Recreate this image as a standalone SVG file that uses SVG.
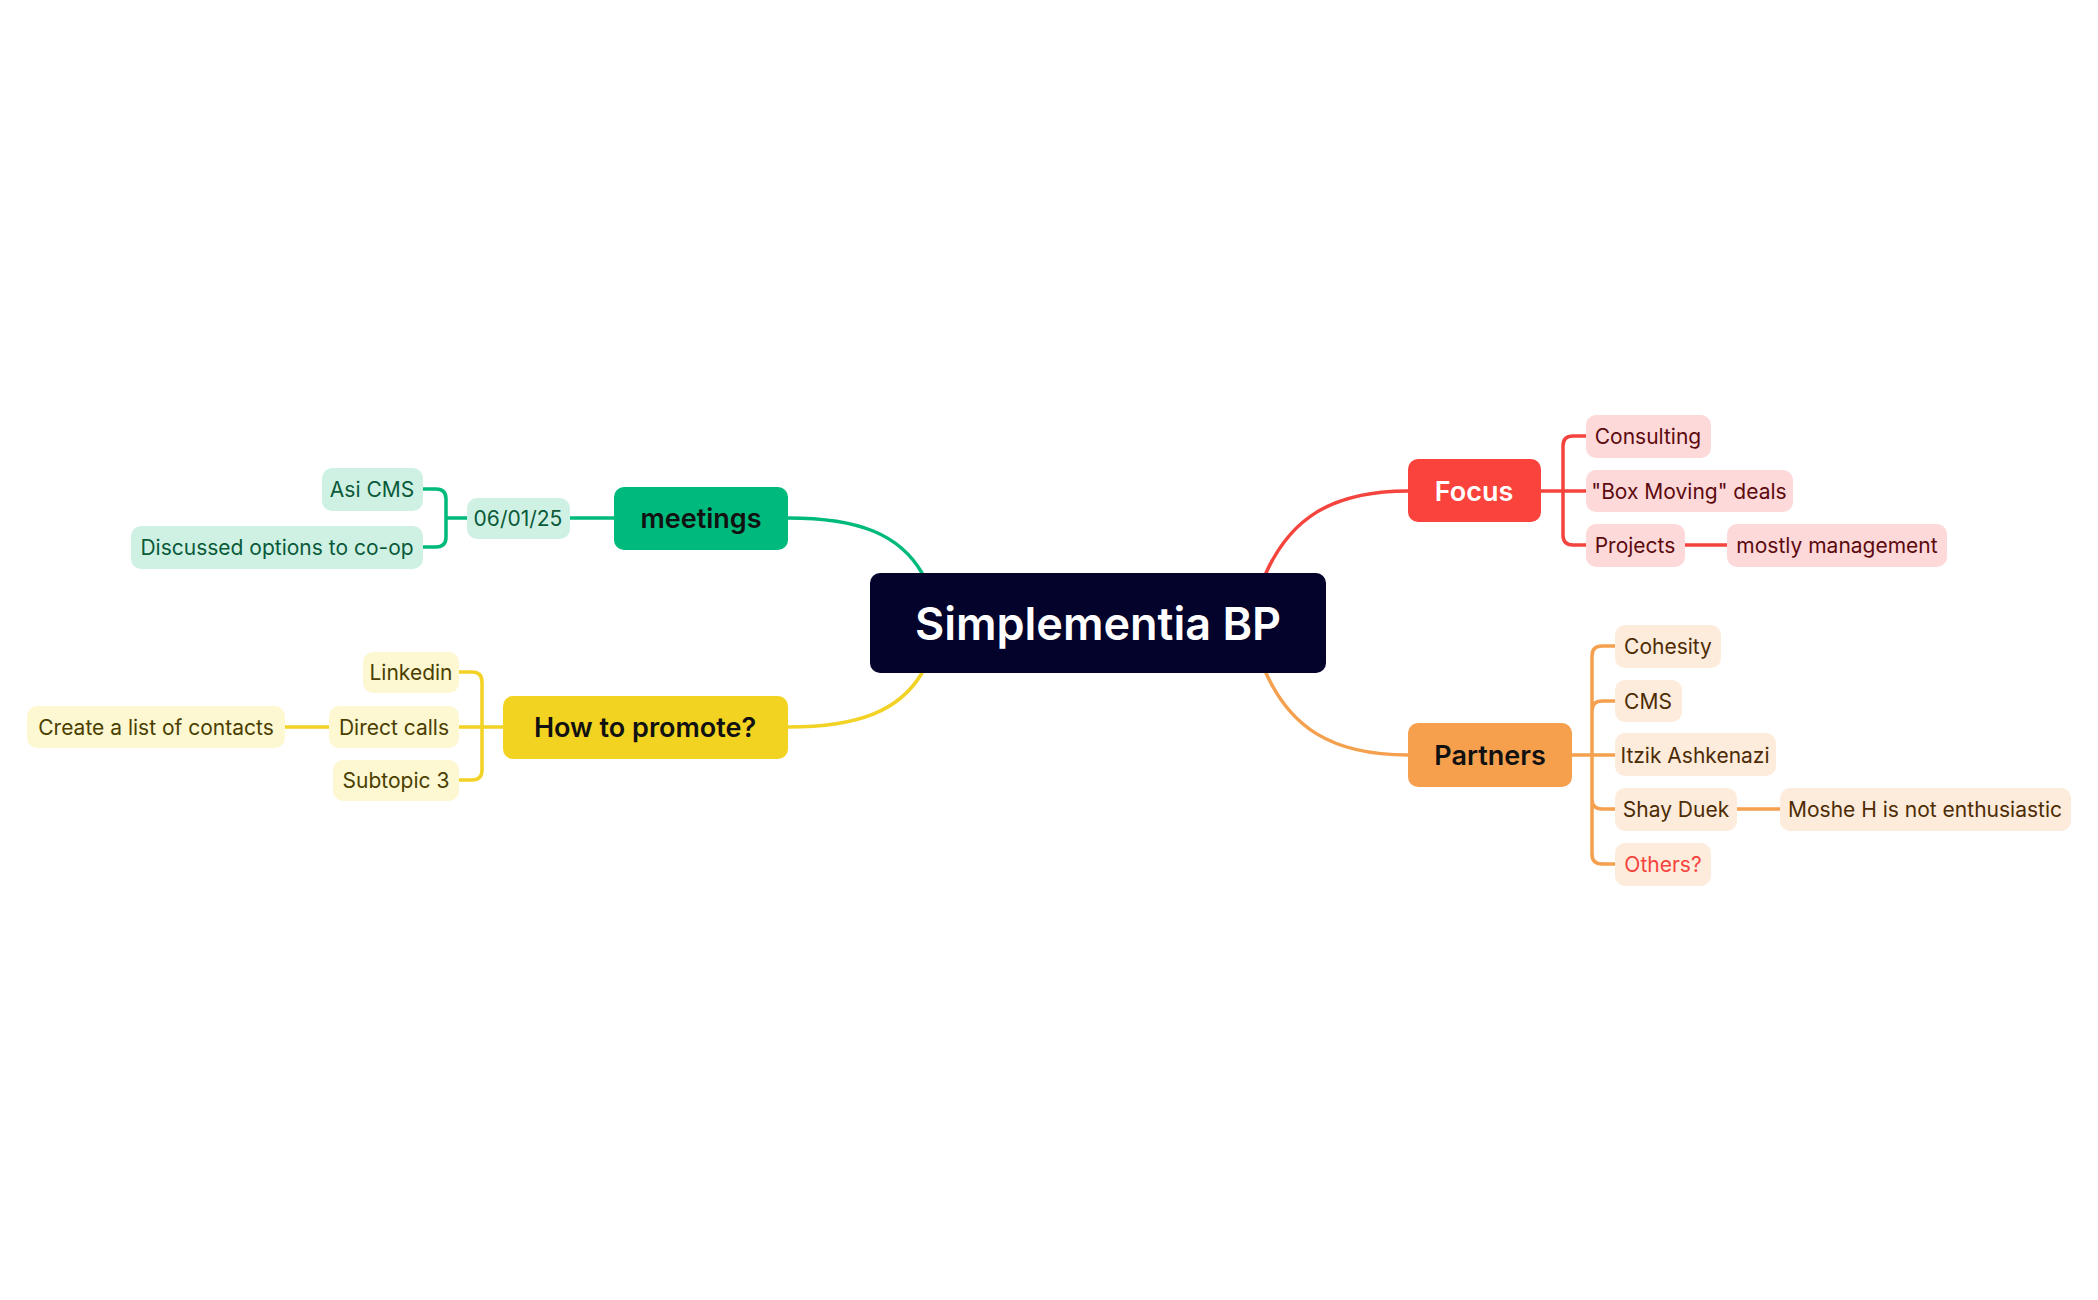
<svg xmlns="http://www.w3.org/2000/svg" width="2098" height="1300" viewBox="0 0 2098 1300">
<style>
text{font-family:Inter,"Open Sans","Liberation Sans",sans-serif;dominant-baseline:central;text-anchor:middle}
.c{fill:none;stroke-width:3.5;stroke-linecap:round}
.r{stroke:#f5433d}.o{stroke:#f5a04e}.g{stroke:#00b97c}.y{stroke:#f2d224}
.sub{font-size:21px}
.rs{fill:#fdd9d9}.rt{fill:#5c0a0f}
.os{fill:#fdebdb}.ot{fill:#4d2c05}
.gs{fill:#cff1e4}.gt{fill:#0a5a3a}
.ys{fill:#fdf7d2}.yt{fill:#4a3f00}
.main{font-size:27px;font-weight:600}
</style>
<rect width="2098" height="1300" fill="#fff"/>
<g id="connectors">
<path class="c r" d="M1266 573 C1290 520 1330 491 1408 491"/>
<path class="c o" d="M1266 673 C1290 726 1330 755 1408 755"/>
<path class="c g" d="M922 573 C900 535 860 518 788 518"/>
<path class="c y" d="M922 673 C900 710 860 727 788 727"/>
<path class="c r" d="M1541 491 H1586 M1586 436 H1573 Q1563 436 1563 446 V535 Q1563 545 1573 545 H1586 M1685 545 H1727"/>
<path class="c o" d="M1572 755 H1615 M1615 646 H1602 Q1592 646 1592 656 V854 Q1592 864 1602 864 H1615 M1592 711 Q1592 701 1602 701 H1615 M1592 799 Q1592 809 1602 809 H1615 M1737 809 H1780"/>
<path class="c g" d="M614 518 H570 M467 518 H446 M423 489 H436 Q446 489 446 499 V537 Q446 547 436 547 H423"/>
<path class="c y" d="M503 727 H459 M459 672 H472 Q482 672 482 682 V770 Q482 780 472 780 H459 M285 727 H329"/>
</g>
<g id="central"><rect x="870" y="573" width="456" height="100" rx="10" fill="#03032b"/><text x="1098" y="623" font-size="45" font-weight="600" fill="#fff">Simplementia BP</text></g>
<g id="focus"><rect x="1408" y="459" width="133" height="63" rx="10" fill="#fa433c"/><text class="main" x="1474" y="491" fill="#fff">Focus</text></g>
<g id="partners"><rect x="1408" y="723" width="164" height="64" rx="10" fill="#f6a04d"/><text class="main" x="1490" y="755" fill="#111">Partners</text></g>
<g id="meetings"><rect x="614" y="487" width="174" height="63" rx="10" fill="#00b97c"/><text class="main" x="701" y="518" fill="#111">meetings</text></g>
<g id="promote"><rect x="503" y="696" width="285" height="63" rx="10" fill="#f3d321"/><text class="main" x="645" y="727" fill="#111">How to promote?</text></g>
<g id="consulting"><rect class="rs" x="1586" y="415" width="125" height="43" rx="10"/><text class="sub rt" x="1648" y="436">Consulting</text></g>
<g id="boxmoving"><rect class="rs" x="1586" y="470" width="207" height="42" rx="10"/><text class="sub rt" x="1689" y="491">"Box Moving" deals</text></g>
<g id="projects"><rect class="rs" x="1586" y="524" width="99" height="43" rx="10"/><text class="sub rt" x="1635" y="545">Projects</text></g>
<g id="mostly"><rect class="rs" x="1727" y="524" width="220" height="43" rx="10"/><text class="sub rt" x="1837" y="545">mostly management</text></g>
<g id="cohesity"><rect class="os" x="1615" y="625" width="106" height="43" rx="10"/><text class="sub ot" x="1668" y="646">Cohesity</text></g>
<g id="cms"><rect class="os" x="1615" y="680" width="67" height="42" rx="10"/><text class="sub ot" x="1648" y="701">CMS</text></g>
<g id="itzik"><rect class="os" x="1615" y="733" width="161" height="43" rx="10"/><text class="sub ot" x="1695" y="755" font-size="20">Itzik Ashkenazi</text></g>
<g id="shay"><rect class="os" x="1615" y="788" width="122" height="43" rx="10"/><text class="sub ot" x="1676" y="809">Shay Duek</text></g>
<g id="moshe"><rect class="os" x="1780" y="788" width="291" height="43" rx="10"/><text class="sub ot" x="1925" y="809">Moshe H is not enthusiastic</text></g>
<g id="others"><rect class="os" x="1615" y="843" width="96" height="43" rx="10"/><text class="sub" x="1663" y="864" fill="#f5433d">Others?</text></g>
<g id="date"><rect class="gs" x="467" y="498" width="103" height="41" rx="10"/><text class="sub gt" x="518" y="518">06/01/25</text></g>
<g id="asicms"><rect class="gs" x="322" y="468" width="101" height="43" rx="10"/><text class="sub gt" x="372" y="489">Asi CMS</text></g>
<g id="discussed"><rect class="gs" x="131" y="526" width="292" height="43" rx="10"/><text class="sub gt" x="277" y="547">Discussed options to co-op</text></g>
<g id="linkedin"><rect class="ys" x="363" y="652" width="96" height="41" rx="10"/><text class="sub yt" x="411" y="672">Linkedin</text></g>
<g id="directcalls"><rect class="ys" x="329" y="706" width="130" height="42" rx="10"/><text class="sub yt" x="394" y="727">Direct calls</text></g>
<g id="subtopic3"><rect class="ys" x="333" y="760" width="126" height="41" rx="10"/><text class="sub yt" x="396" y="780">Subtopic 3</text></g>
<g id="createlist"><rect class="ys" x="27" y="706" width="258" height="42" rx="10"/><text class="sub yt" x="156" y="727">Create a list of contacts</text></g>
</svg>
